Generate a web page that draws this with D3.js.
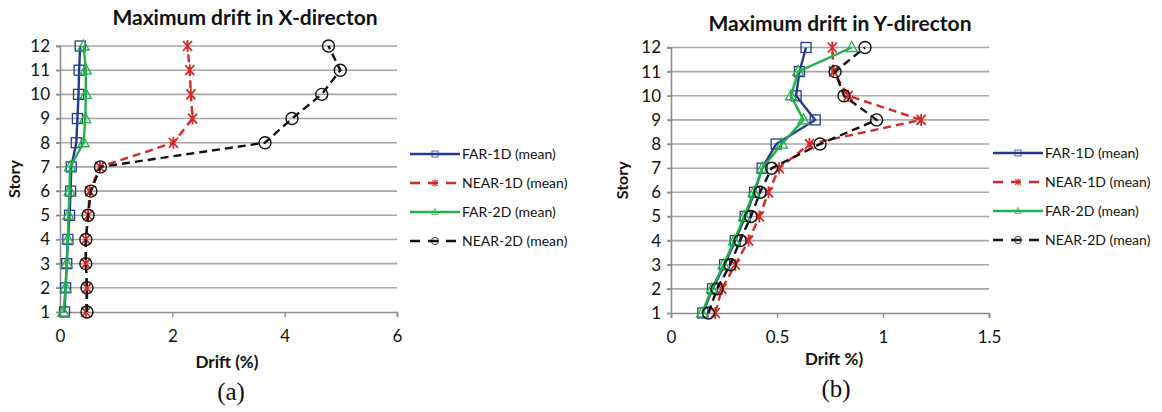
<!DOCTYPE html>
<html>
<head>
<meta charset="utf-8">
<script src="https://cdn.jsdelivr.net/npm/d3@7"></script>
<style>
  body { margin: 0; background: #fff; }
  svg { display: block; }
</style>
</head>
<body>
<div id="chart"></div>
<script>
// story levels
var stories = [1, 2, 3, 4, 5, 6, 7, 8, 9, 10, 11, 12];

// X-direction drift (%)
var xFar1D  = [0.08, 0.10, 0.12, 0.14, 0.17, 0.19, 0.20, 0.29, 0.31, 0.33, 0.34, 0.36];
var xNear1D = [0.46, 0.48, 0.46, 0.46, 0.50, 0.53, 0.71, 2.02, 2.36, 2.33, 2.31, 2.27];
var xFar2D  = [0.06, 0.10, 0.12, 0.14, 0.15, 0.17, 0.18, 0.42, 0.45, 0.46, 0.46, 0.42];
var xNear2D = [0.48, 0.48, 0.46, 0.46, 0.50, 0.55, 0.72, 3.65, 4.13, 4.66, 4.99, 4.78];

// Y-direction drift (%)
var yFar1D  = [0.15, 0.196, 0.253, 0.303, 0.35, 0.394, 0.43, 0.496, 0.68, 0.59, 0.606, 0.637];
var yNear1D = [0.209, 0.24, 0.303, 0.366, 0.417, 0.46, 0.51, 0.653, 1.18, 0.836, 0.766, 0.761];
var yFar2D  = [0.146, 0.193, 0.248, 0.298, 0.345, 0.39, 0.43, 0.523, 0.625, 0.566, 0.60, 0.852];
var yNear2D = [0.177, 0.217, 0.279, 0.326, 0.377, 0.42, 0.475, 0.703, 0.97, 0.816, 0.774, 0.915];

var xTicksA = [0, 2, 4, 6];
var xTicksB = [0, 0.5, 1, 1.5];
var seriesNames = ["FAR-1D (mean)", "NEAR-1D (mean)", "FAR-2D (mean)", "NEAR-2D (mean)"];

var svgWidth = 1162;
var svgHeight = 412;

var svg = d3.select("#chart")
  .append("svg")
  .attr("width", svgWidth)
  .attr("height", svgHeight);

var font = "Lato, 'Open Sans', sans-serif";

// line + marker styles per series
var styles = [
  { color: "#243a8f", dash: null, marker: "square" },
  { color: "#d62828", dash: "8,5", marker: "star" },
  { color: "#22b04b", dash: null, marker: "triangle" },
  { color: "#111111", dash: "8,5", marker: "circle" }
];

function drawMarker(g, type, color, x, y) {
  if (type === "square") {
    g.append("rect")
      .attr("x", x - 5).attr("y", y - 5)
      .attr("width", 10).attr("height", 10)
      .attr("fill", "none").attr("stroke", color).attr("stroke-width", 1.3);
  } else if (type === "triangle") {
    g.append("path")
      .attr("d", `M${x},${y - 6}L${x + 5.5},${y + 4}L${x - 5.5},${y + 4}Z`)
      .attr("fill", "none").attr("stroke", color).attr("stroke-width", 1.3);
  } else if (type === "circle") {
    g.append("circle")
      .attr("cx", x).attr("cy", y).attr("r", 6)
      .attr("fill", "none").attr("stroke", color).attr("stroke-width", 1.4);
  } else {
    // asterisk style star
    g.append("path")
      .attr("d", `M${x - 4.5},${y - 5}L${x + 4.5},${y + 5}M${x + 4.5},${y - 5}L${x - 4.5},${y + 5}M${x},${y - 6}L${x},${y + 6}`)
      .attr("stroke", color).attr("stroke-width", 1.8).attr("fill", "none");
  }
}

function drawPanel(opts) {
  var g = svg.append("g");

  var x = d3.scaleLinear().domain(opts.xDomain).range([opts.left, opts.right]);
  var y = d3.scaleLinear().domain([1, 12]).range([opts.bottom, opts.top]);

  // horizontal gridlines
  g.selectAll(".grid")
    .data(stories.slice(1))
    .enter()
    .append("line")
    .attr("x1", opts.left - 4)
    .attr("x2", opts.right)
    .attr("y1", d => y(d))
    .attr("y2", d => y(d))
    .attr("stroke", "#a6a6a6")
    .attr("stroke-width", 1.6);

  // y axis
  var leftAxis = d3.axisLeft(y).tickValues(stories).tickSize(4).tickPadding(6);
  var yAxis = g.append("g")
    .attr("transform", `translate(${opts.left},0)`)
    .call(leftAxis);

  // x axis
  var bottomAxis = d3.axisBottom(x).tickValues(opts.xTicks).tickSize(5)
    .tickPadding(13).tickFormat(d => String(d));
  var xAxis = g.append("g")
    .attr("transform", `translate(0,${opts.bottom})`)
    .call(bottomAxis);

  [xAxis, yAxis].forEach(function(ax) {
    ax.select(".domain").attr("stroke", "#8c8c8c").attr("stroke-width", 1.6);
    ax.selectAll(".tick line").attr("stroke", "#8c8c8c").attr("stroke-width", 1.4);
    ax.selectAll(".tick text")
      .attr("font-family", font)
      .attr("font-size", "17px")
      .attr("fill", "#111");
  });

  // series lines
  var lineGen = d3.line()
    .x(d => x(d.v))
    .y(d => y(d.s));

  opts.series.forEach(function(vals, i) {
    var pts = vals.map((v, j) => ({ v: v, s: stories[j] }));
    var st = styles[i];
    g.append("path")
      .datum(pts)
      .attr("d", lineGen)
      .attr("fill", "none")
      .attr("stroke", st.color)
      .attr("stroke-width", 2.4)
      .attr("stroke-dasharray", st.dash);
    pts.forEach(function(p) {
      drawMarker(g, st.marker, st.color, x(p.v), y(p.s));
    });
  });

  // title
  g.append("text")
    .attr("x", opts.titleX)
    .attr("y", opts.titleY)
    .attr("text-anchor", "middle")
    .attr("font-family", font)
    .attr("font-weight", "bold")
    .attr("font-size", "21px")
    .attr("fill", "#111")
    .text(opts.title);

  // y label
  g.append("text")
    .attr("transform", `translate(${opts.storyX},${(opts.top + opts.bottom) / 2}) rotate(-90)`)
    .attr("text-anchor", "middle")
    .attr("font-family", font)
    .attr("font-weight", "bold")
    .attr("font-size", "16px")
    .attr("fill", "#111")
    .text("Story");

  // x label
  g.append("text")
    .attr("x", opts.xLabelX)
    .attr("y", opts.xLabelY)
    .attr("text-anchor", "middle")
    .attr("font-family", font)
    .attr("font-weight", "bold")
    .attr("font-size", "17px")
    .attr("fill", "#111")
    .text(opts.xLabel);

  // panel caption
  g.append("text")
    .attr("x", opts.capX)
    .attr("y", opts.capY)
    .attr("text-anchor", "middle")
    .attr("font-family", "'Liberation Serif', serif")
    .attr("font-size", "25px")
    .attr("fill", "#111")
    .text(opts.caption);

  // legend
  var lg = g.append("g");
  seriesNames.forEach(function(name, i) {
    var st = styles[i];
    var ly = opts.legendY + i * 29;
    lg.append("line")
      .attr("x1", opts.legendX)
      .attr("x2", opts.legendX + 50)
      .attr("y1", ly).attr("y2", ly)
      .attr("stroke", st.color)
      .attr("stroke-width", 2.4)
      .attr("stroke-dasharray", st.dash ? "10,8" : null);
    var mk = lg.append("g").attr("transform", `translate(${opts.legendX + 25},${ly}) scale(0.6)`);
    drawMarker(mk, st.marker, st.color, 0, 0);
    lg.append("text")
      .attr("x", opts.legendX + 52)
      .attr("y", ly)
      .attr("dy", "0.35em")
      .attr("font-family", font)
      .attr("font-size", "14px")
      .attr("fill", "#111")
      .text(name);
  });
}

drawPanel({
  left: 60, right: 397, top: 46, bottom: 312,
  xDomain: [0, 6], xTicks: xTicksA,
  series: [xFar1D, xNear1D, xFar2D, xNear2D],
  title: "Maximum drift in X-directon", titleX: 245, titleY: 25,
  storyX: 20, xLabel: "Drift (%)", xLabelX: 227, xLabelY: 368,
  caption: "(a)", capX: 231, capY: 400,
  legendX: 410, legendY: 154
});

drawPanel({
  left: 671, right: 989, top: 47.5, bottom: 313,
  xDomain: [0, 1.5], xTicks: xTicksB,
  series: [yFar1D, yNear1D, yFar2D, yNear2D],
  title: "Maximum drift in Y-directon", titleX: 840, titleY: 31,
  storyX: 628, xLabel: "Drift %)", xLabelX: 834, xLabelY: 365,
  caption: "(b)", capX: 836, capY: 397,
  legendX: 993, legendY: 153
});
</script>
</body>
</html>
